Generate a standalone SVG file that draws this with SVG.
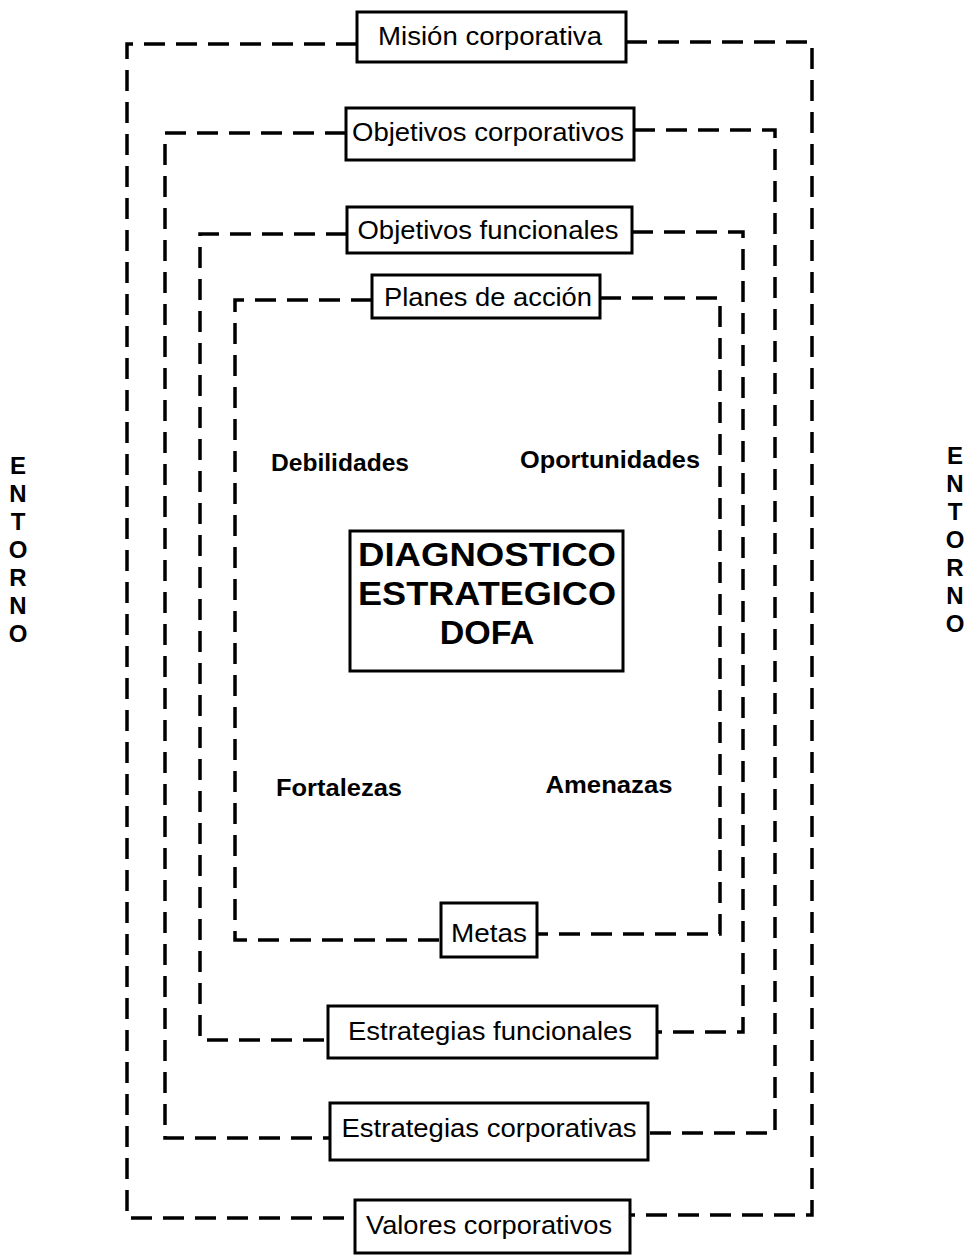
<svg xmlns="http://www.w3.org/2000/svg" width="969" height="1256" viewBox="0 0 969 1256">
<style>
.dash{fill:none;stroke:#000;stroke-width:3.5;stroke-dasharray:21 11;stroke-linejoin:miter}
.box{fill:#fff;stroke:#000;stroke-width:3}
.lbl{font-family:"Liberation Sans",Arial,sans-serif;font-size:26px;fill:#000;text-anchor:middle}
.q{font-family:"Liberation Sans",Arial,sans-serif;font-size:24px;font-weight:bold;fill:#000;text-anchor:middle}
.big{font-family:"Liberation Sans",Arial,sans-serif;font-size:34px;font-weight:bold;fill:#000;text-anchor:middle}
.ent{font-family:"Liberation Sans",Arial,sans-serif;font-size:24px;font-weight:bold;fill:#000;text-anchor:middle}
</style>
<rect width="969" height="1256" fill="#fff"/>
<g id="connectors">
<path class="dash" d="M357,44 H127 V1218 H355"/>
<path class="dash" d="M626,42 H812 V1215 H630"/>
<path class="dash" d="M346,133 H165 V1138 H330"/>
<path class="dash" d="M634,130 H775 V1133 H648"/>
<path class="dash" d="M347,234 H200 V1040 H328"/>
<path class="dash" d="M632,232 H743 V1032 H657"/>
<path class="dash" d="M372,300 H235 V940 H441"/>
<path class="dash" d="M600,298 H720 V934 H537"/>
</g>
<g id="mision"><rect class="box" x="357" y="12" width="269" height="50"/><text class="lbl" x="490" y="45" textLength="224" lengthAdjust="spacingAndGlyphs">Misión corporativa</text></g>
<g id="obj-corp"><rect class="box" x="346" y="108" width="288" height="52"/><text class="lbl" x="488" y="141" textLength="272" lengthAdjust="spacingAndGlyphs">Objetivos corporativos</text></g>
<g id="obj-func"><rect class="box" x="347" y="207" width="285" height="46"/><text class="lbl" x="488" y="239" textLength="261" lengthAdjust="spacingAndGlyphs">Objetivos funcionales</text></g>
<g id="planes"><rect class="box" x="372" y="275" width="228" height="43"/><text class="lbl" x="488" y="306" textLength="208" lengthAdjust="spacingAndGlyphs">Planes de acción</text></g>
<g id="dofa"><rect class="box" x="350" y="531" width="273" height="140"/>
<text class="big" x="487" y="566" textLength="258" lengthAdjust="spacingAndGlyphs">DIAGNOSTICO</text>
<text class="big" x="487" y="605" textLength="258" lengthAdjust="spacingAndGlyphs">ESTRATEGICO</text>
<text class="big" x="487" y="644">DOFA</text></g>
<g id="debilidades"><text class="q" x="340" y="471" textLength="138" lengthAdjust="spacingAndGlyphs">Debilidades</text></g>
<g id="oportunidades"><text class="q" x="610" y="468" textLength="180" lengthAdjust="spacingAndGlyphs">Oportunidades</text></g>
<g id="fortalezas"><text class="q" x="339" y="796" textLength="126" lengthAdjust="spacingAndGlyphs">Fortalezas</text></g>
<g id="amenazas"><text class="q" x="609" y="793" textLength="127" lengthAdjust="spacingAndGlyphs">Amenazas</text></g>
<g id="metas"><rect class="box" x="441" y="903" width="96" height="54"/><text class="lbl" x="489" y="942" textLength="76" lengthAdjust="spacingAndGlyphs">Metas</text></g>
<g id="estr-func"><rect class="box" x="328" y="1006" width="329" height="52"/><text class="lbl" x="490" y="1040" textLength="284" lengthAdjust="spacingAndGlyphs">Estrategias funcionales</text></g>
<g id="estr-corp"><rect class="box" x="330" y="1103" width="318" height="57"/><text class="lbl" x="489" y="1137" textLength="295" lengthAdjust="spacingAndGlyphs">Estrategias corporativas</text></g>
<g id="valores"><rect class="box" x="355" y="1200" width="275" height="53"/><text class="lbl" x="489" y="1234" textLength="246" lengthAdjust="spacingAndGlyphs">Valores corporativos</text></g>
<g id="entorno-izq">
<text class="ent" x="18" y="474">E</text><text class="ent" x="18" y="502">N</text><text class="ent" x="18" y="530">T</text><text class="ent" x="18" y="558">O</text><text class="ent" x="18" y="586">R</text><text class="ent" x="18" y="614">N</text><text class="ent" x="18" y="642">O</text>
</g>
<g id="entorno-der">
<text class="ent" x="955" y="464">E</text><text class="ent" x="955" y="492">N</text><text class="ent" x="955" y="520">T</text><text class="ent" x="955" y="548">O</text><text class="ent" x="955" y="576">R</text><text class="ent" x="955" y="604">N</text><text class="ent" x="955" y="632">O</text>
</g>
</svg>
